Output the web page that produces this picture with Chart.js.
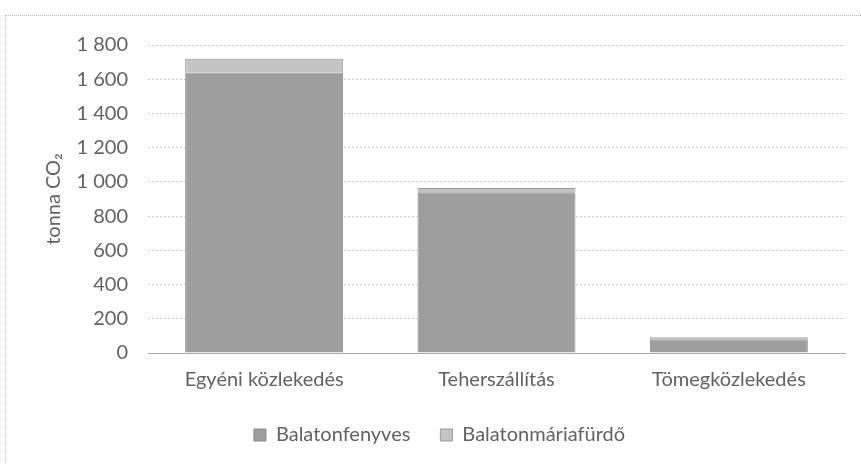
<!DOCTYPE html>
<html>
<head>
<meta charset="utf-8">
<script src="https://cdn.jsdelivr.net/npm/chart.js@4.4.1/dist/chart.umd.min.js"></script>
<style>
  html, body { margin: 0; padding: 0; background: #ffffff; overflow: hidden; }
  #wrap { position: relative; width: 861px; height: 464px; }
  #frame { position: absolute; left: 5px; top: 15px; width: 900px; height: 500px; border-left: 1px dotted #b8b8b8; border-top: 1px dotted #b8b8b8; box-sizing: border-box; pointer-events: none; }
  canvas { position: absolute; left: 0; top: 0; }
</style>
</head>
<body>
<div id="wrap">
  <canvas id="c" width="861" height="464"></canvas>
  <div id="frame"></div>
</div>
<script>
const categories = ["Egyéni közlekedés", "Teherszállítás", "Tömegközlekedés"];
const balatonfenyves = [1640, 940, 80];
const balatonmariafurdo = [80, 25, 12];
const seriesNames = ["Balatonfenyves", "Balatonmáriafürdő"];
const yTicks = [0, 200, 400, 600, 800, 1000, 1200, 1400, 1600, 1800];
const axisTitle = "tonna CO₂";

const fontFamily = "Lato, 'Open Sans', sans-serif";
const textColor = "#626262";

function fmt(v) {
  return String(v).replace(/\B(?=(\d{3})+(?!\d))/g, " ");
}

new Chart(document.getElementById("c"), {
  type: "bar",
  data: {
    labels: categories,
    datasets: [
      {
        label: seriesNames[0],
        data: balatonfenyves,
        backgroundColor: "#9e9e9e",
        borderColor: "#8a8a8a",
        borderWidth: 1,
        barPercentage: 0.68,
        categoryPercentage: 1.0
      },
      {
        label: seriesNames[1],
        data: balatonmariafurdo,
        backgroundColor: "#c4c4c4",
        borderColor: "#9a9a9a",
        borderWidth: 1,
        barPercentage: 0.68,
        categoryPercentage: 1.0
      }
    ]
  },
  options: {
    responsive: false,
    animation: false,
    layout: { padding: { left: 0, right: 16, top: 45, bottom: 9 } },
    plugins: {
      legend: {
        position: "bottom",
        labels: {
          font: { family: fontFamily, size: 20 },
          color: textColor,
          boxWidth: 12,
          boxHeight: 12,
          padding: 30
        }
      },
      tooltip: { enabled: false }
    },
    scales: {
      x: {
        stacked: true,
        grid: { display: false, drawTicks: false },
        border: { display: true, color: "#a8a8a8", dash: [1, 2] },
        ticks: {
          font: { family: fontFamily, size: 20 },
          color: textColor,
          padding: 15,
          maxRotation: 0
        },
        afterFit(scale) { scale.height = 42; }
      },
      y: {
        stacked: true,
        min: 0,
        max: 1800,
        afterBuildTicks(scale) { scale.ticks = yTicks.map(v => ({ value: v })); },
        grid: { color: "#cccccc", drawTicks: false, lineWidth: 1 },
        border: { display: false, dash: [2, 2] },
        ticks: {
          font: { family: fontFamily, size: 20 },
          color: textColor,
          padding: 20,
          callback: (v) => fmt(v)
        },
        title: {
          display: true,
          text: axisTitle,
          font: { family: fontFamily, size: 20 },
          color: textColor,
          padding: { top: 42, bottom: 0 }
        },
        afterFit(scale) { scale.width = 148; }
      }
    }
  },
  plugins: [{
    id: "shiftLegend",
    beforeDraw(chart) {
      const lg = chart.legend;
      if (!lg) return;
      if (lg._origLeft === undefined) { lg._origLeft = lg.left; lg._origRight = lg.right; }
      lg.left = lg._origLeft + 17;
      lg.right = lg._origRight + 17;
    }
  }]
});
</script>
</body>
</html>
